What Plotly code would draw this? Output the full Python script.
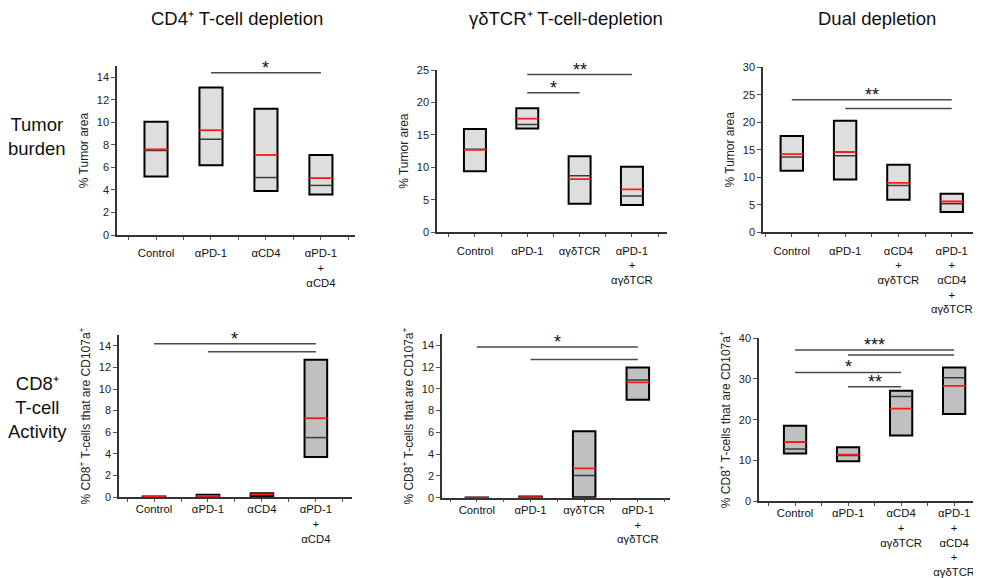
import plotly.graph_objects as go

OFF = 8                      # browser body margin offset (px)
W, H = 981 - OFF, 578 - OFF  # figure size so it fits the window
FONT = "Arial, Liberation Sans, sans-serif"

# ---------------- data ----------------
cats_cd4 = ["Control", "αPD-1", "αCD4", "αPD-1<br>+<br>αCD4"]
cats_gd = ["Control", "αPD-1", "αγδTCR", "αPD-1<br>+<br>αγδTCR"]
cats_dual = ["Control", "αPD-1", "αCD4<br>+<br>αγδTCR", "αPD-1<br>+<br>αCD4<br>+<br>αγδTCR"]

# Tumor burden (% tumor area)
tb_cd4_min = [5.2, 6.2, 3.9, 3.6]
tb_cd4_max = [10.05, 13.1, 11.2, 7.1]
tb_cd4_median = [7.5, 8.5, 5.1, 4.4]
tb_cd4_mean = [7.6, 9.3, 7.1, 5.05]
tb_cd4_sig = [(1, 3, 14.4, "*")]

tb_gd_min = [9.4, 16.0, 4.4, 4.2]
tb_gd_max = [15.9, 19.1, 11.7, 10.1]
tb_gd_median = [12.8, 16.6, 8.7, 5.6]
tb_gd_mean = [12.7, 17.5, 8.2, 6.6]
tb_gd_sig = [(1, 3, 24.3, "**"), (1, 2, 21.5, "*")]

tb_dual_min = [11.2, 9.6, 5.9, 3.7]
tb_dual_max = [17.5, 20.3, 12.3, 7.0]
tb_dual_median = [13.7, 13.9, 8.5, 5.2]
tb_dual_mean = [14.2, 14.6, 9.0, 5.6]
tb_dual_sig = [(0, 3, 24.1, "**"), (1, 3, 22.5, "")]

# CD8+ T-cell activity (% CD107a+)
ca_cd4_min = [0.0, 0.0, 0.1, 3.7]
ca_cd4_max = [0.05, 0.2, 0.35, 12.7]
ca_cd4_median = [0.02, 0.08, 0.2, 5.5]
ca_cd4_mean = [0.03, 0.1, 0.25, 7.3]
ca_cd4_sig = [(0, 3, 14.2, "*"), (1, 3, 13.45, "")]

ca_gd_min = [0.0, 0.0, 0.05, 9.0]
ca_gd_max = [0.02, 0.1, 6.1, 11.95]
ca_gd_median = [0.0, 0.05, 2.05, 10.8]
ca_gd_mean = [0.0, 0.05, 2.7, 10.6]
ca_gd_sig = [(0, 3, 13.85, "*"), (1, 3, 12.7, "")]

ca_dual_min = [11.7, 9.8, 16.1, 21.4]
ca_dual_max = [18.5, 13.2, 27.1, 32.8]
ca_dual_median = [12.8, 11.2, 25.7, 30.3]
ca_dual_mean = [14.5, 11.4, 22.7, 28.3]
ca_dual_sig = [(0, 3, 37.1, "***"), (1, 3, 35.9, ""), (0, 2, 31.6, "*"), (1, 2, 28.1, "**")]

col_titles = ["CD4⁺ T-cell depletion", "γδTCR⁺ T-cell-depletion", "Dual depletion"]
row_titles = ["Tumor<br>burden", "CD8⁺<br>T-cell<br>Activity"]
ytitle_tb = "% Tumor area"
ytitle_ca = "% CD8<sup>+</sup> T-cells that are CD107a<sup>+</sup>"

# ---------------- layout geometry (window pixels) ----------------
panels = [
    dict(cats=cats_cd4, mn=tb_cd4_min, mx=tb_cd4_max, md=tb_cd4_median, me=tb_cd4_mean, sig=tb_cd4_sig,
         px=(117, 355), py=(66, 235), xr=(-0.71, 3.62), yr=(0, 15), dt=2, fill="#dedede", yt=ytitle_tb, so=4),
    dict(cats=cats_gd, mn=tb_gd_min, mx=tb_gd_max, md=tb_gd_median, me=tb_gd_mean, sig=tb_gd_sig,
         px=(437, 667), py=(70, 232.3), xr=(-0.725, 3.67), yr=(0, 25), dt=5, fill="#dedede", yt=ytitle_tb, so=4),
    dict(cats=cats_dual, mn=tb_dual_min, mx=tb_dual_max, md=tb_dual_median, me=tb_dual_mean, sig=tb_dual_sig,
         px=(763, 980), py=(67.3, 232.3), xr=(-0.54, 3.53), yr=(0, 30), dt=5, fill="#dedede", yt=ytitle_tb, so=4),
    dict(cats=cats_cd4, mn=ca_cd4_min, mx=ca_cd4_max, md=ca_cd4_median, me=ca_cd4_mean, sig=ca_cd4_sig,
         px=(119, 352), py=(335, 497), xr=(-0.65, 3.67), yr=(0, 15), dt=2, fill="#c0c0c0", yt=ytitle_ca, so=-2),
    dict(cats=cats_gd, mn=ca_gd_min, mx=ca_gd_max, md=ca_gd_median, me=ca_gd_mean, sig=ca_gd_sig,
         px=(442, 670), py=(334.4, 497.7), xr=(-0.65, 3.6), yr=(0, 15), dt=2, fill="#c0c0c0", yt=ytitle_ca, so=-2),
    dict(cats=cats_dual, mn=ca_dual_min, mx=ca_dual_max, md=ca_dual_median, me=ca_dual_mean, sig=ca_dual_sig,
         px=(759, 978), py=(338.3, 501), xr=(-0.68, 3.45), yr=(0, 40), dt=10, fill="#c0c0c0", yt=ytitle_ca, so=-2),
]


def fx(px):
    return min(max((px - OFF) / W, 0), 1)


def fy(py):
    return min(max(1 - (py - OFF) / H, 0), 1)


BW = 0.42  # box width in category units

fig = go.Figure()
layout = dict(
    template="none",
    width=W, height=H, margin=dict(l=0, r=0, t=0, b=0, autoexpand=False),
    paper_bgcolor="white", plot_bgcolor="white", showlegend=False,
    font=dict(family=FONT, size=11, color="#222"),
    annotations=[], barmode="overlay",
)

for k, p in enumerate(panels, start=1):
    xa = "x" if k == 1 else f"x{k}"
    ya = "y" if k == 1 else f"y{k}"
    n = len(p["cats"])
    idx = list(range(n))
    # boxes (min..max)
    fig.add_trace(go.Bar(
        x=idx, base=p["mn"], y=[b - a for a, b in zip(p["mn"], p["mx"])], width=BW,
        marker=dict(color=p["fill"], line=dict(color="black", width=2)),
        xaxis=xa, yaxis=ya, hoverinfo="skip"))
    # median (dark) and mean (red) lines
    for vals, color, wd in ((p["md"], "#3a3a3a", 1.5), (p["me"], "#ff1a1a", 1.8)):
        xs, ys = [], []
        for i, v in zip(idx, vals):
            xs += [i - BW / 2, i + BW / 2, None]
            ys += [v, v, None]
        fig.add_trace(go.Scatter(x=xs, y=ys, mode="lines", line=dict(color=color, width=wd),
                                 xaxis=xa, yaxis=ya, hoverinfo="skip"))
    # significance brackets
    for (i, j, yv, lab) in p["sig"]:
        fig.add_trace(go.Scatter(x=[i, j], y=[yv, yv], mode="lines", line=dict(color="#4a4a4a", width=1.5),
                                 xaxis=xa, yaxis=ya, hoverinfo="skip", cliponaxis=False))
        if lab:
            layout["annotations"].append(dict(
                x=(i + j) / 2, y=yv, xref=xa, yref=ya, text=lab, showarrow=False,
                xanchor="center", yanchor="middle", yshift=5,
                font=dict(size=18, color="#111", family=FONT)))
    x0, x1 = p["px"]
    y0, y1 = p["py"]
    axis_line = dict(showline=True, linecolor="#333", linewidth=1.5, zeroline=False, showgrid=False,
                     automargin=False)
    layout["xaxis" if k == 1 else f"xaxis{k}"] = dict(
        domain=[fx(x0), fx(x1)], range=list(p["xr"]), anchor=ya,
        tickmode="array", tickvals=idx, ticktext=p["cats"], ticks="outside", ticklen=3,
        tickcolor="#555", ticklabelstandoff=p["so"],
        minor=dict(tickmode="array", tickvals=[i - 0.5 for i in range(n + 1)], ticks="outside",
                   ticklen=3, tickcolor="#555"),
        tickfont=dict(size=11.3, color="#111"), **axis_line)
    layout["yaxis" if k == 1 else f"yaxis{k}"] = dict(
        domain=[fy(y1), fy(y0)], range=list(p["yr"]), anchor=xa,
        tickmode="linear", tick0=0, dtick=p["dt"], ticks="outside", ticklen=4, tickcolor="#555",
        tickfont=dict(size=11, color="#222"),
        title=dict(text=p["yt"], font=dict(size=12, color="#222"), standoff=6), **axis_line)

# column titles
for txt, xc in zip(col_titles, [237, 566, 877]):
    layout["annotations"].append(dict(x=fx(xc), y=fy(19), xref="paper", yref="paper", text=txt,
                                      xanchor="center", yanchor="middle", showarrow=False,
                                      font=dict(size=18.5, color="#111", family=FONT)))
# row titles
for txt, yc in zip(row_titles, [136, 407]):
    layout["annotations"].append(dict(x=fx(37), y=fy(yc), xref="paper", yref="paper", text=txt,
                                      xanchor="center", yanchor="middle", showarrow=False, align="center",
                                      font=dict(size=18.5, color="#111", family=FONT)))

fig.update_layout(**layout)
fig.write_html("out.html")
